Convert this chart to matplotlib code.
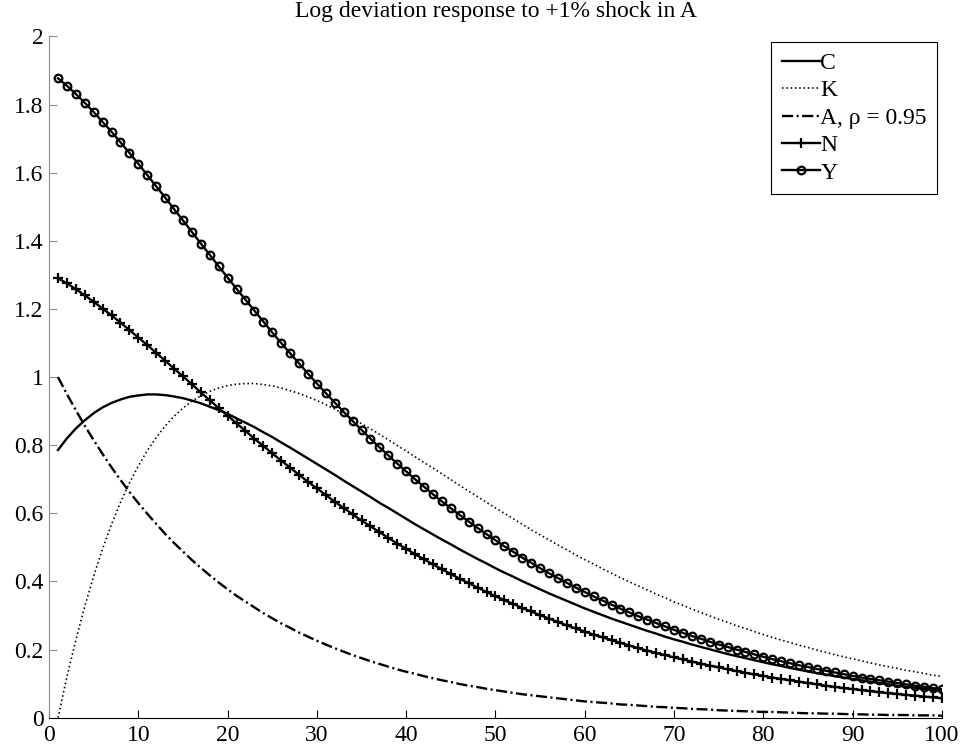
import matplotlib
matplotlib.use("Agg")
import matplotlib.pyplot as plt

plt.rcParams['font.family'] = ['Liberation Serif', 'DejaVu Serif']
plt.rcParams['lines.scale_dashes'] = False

# periods 1..100
t = list(range(1, 101))

C = [0.786, 0.820, 0.849, 0.873, 0.894, 0.911, 0.924, 0.934, 0.942, 0.946,
     0.949, 0.949, 0.947, 0.943, 0.938, 0.931, 0.923, 0.913, 0.903, 0.892,
     0.879, 0.866, 0.853, 0.838, 0.824, 0.808, 0.793, 0.777, 0.761, 0.745,
     0.729, 0.713, 0.696, 0.680, 0.664, 0.648, 0.631, 0.616, 0.600, 0.584,
     0.568, 0.553, 0.538, 0.523, 0.509, 0.494, 0.480, 0.466, 0.453, 0.439,
     0.426, 0.414, 0.401, 0.389, 0.377, 0.365, 0.354, 0.343, 0.332, 0.321,
     0.311, 0.301, 0.291, 0.282, 0.273, 0.264, 0.255, 0.247, 0.238, 0.230,
     0.223, 0.215, 0.208, 0.201, 0.194, 0.187, 0.181, 0.175, 0.169, 0.163,
     0.157, 0.152, 0.146, 0.141, 0.136, 0.131, 0.127, 0.122, 0.118, 0.114,
     0.110, 0.106, 0.102, 0.098, 0.094, 0.091, 0.088, 0.085, 0.082, 0.079]

K = [0.000, 0.120, 0.228, 0.327, 0.416, 0.496, 0.568, 0.632, 0.689, 0.739,
     0.784, 0.822, 0.856, 0.885, 0.909, 0.929, 0.945, 0.958, 0.968, 0.975,
     0.979, 0.981, 0.981, 0.978, 0.974, 0.968, 0.960, 0.952, 0.942, 0.931,
     0.919, 0.906, 0.892, 0.878, 0.863, 0.848, 0.832, 0.816, 0.799, 0.783,
     0.766, 0.749, 0.733, 0.716, 0.699, 0.682, 0.665, 0.649, 0.632, 0.616,
     0.600, 0.584, 0.568, 0.552, 0.537, 0.522, 0.507, 0.493, 0.478, 0.464,
     0.451, 0.437, 0.424, 0.411, 0.399, 0.387, 0.375, 0.363, 0.352, 0.340,
     0.330, 0.319, 0.309, 0.299, 0.289, 0.280, 0.270, 0.262, 0.253, 0.244,
     0.236, 0.228, 0.221, 0.213, 0.206, 0.199, 0.192, 0.185, 0.179, 0.173,
     0.167, 0.161, 0.155, 0.150, 0.145, 0.139, 0.135, 0.130, 0.125, 0.121]

A = [1.000, 0.950, 0.903, 0.857, 0.815, 0.774, 0.735, 0.698, 0.663, 0.630,
     0.599, 0.569, 0.540, 0.513, 0.488, 0.463, 0.440, 0.418, 0.397, 0.377,
     0.358, 0.341, 0.324, 0.307, 0.292, 0.277, 0.264, 0.250, 0.238, 0.226,
     0.215, 0.204, 0.194, 0.184, 0.175, 0.166, 0.158, 0.150, 0.142, 0.135,
     0.129, 0.122, 0.116, 0.110, 0.105, 0.099, 0.094, 0.090, 0.085, 0.081,
     0.077, 0.073, 0.069, 0.066, 0.063, 0.060, 0.057, 0.054, 0.051, 0.048,
     0.046, 0.044, 0.042, 0.039, 0.038, 0.036, 0.034, 0.032, 0.031, 0.029,
     0.028, 0.026, 0.025, 0.024, 0.022, 0.021, 0.020, 0.019, 0.018, 0.017,
     0.017, 0.016, 0.015, 0.014, 0.013, 0.013, 0.012, 0.012, 0.011, 0.010,
     0.010, 0.009, 0.009, 0.008, 0.008, 0.008, 0.007, 0.007, 0.007, 0.006]

N = [1.290, 1.275, 1.258, 1.240, 1.221, 1.201, 1.181, 1.160, 1.138, 1.116,
     1.094, 1.071, 1.048, 1.025, 1.002, 0.979, 0.955, 0.932, 0.909, 0.887,
     0.864, 0.842, 0.819, 0.798, 0.776, 0.755, 0.734, 0.713, 0.693, 0.673,
     0.654, 0.634, 0.616, 0.597, 0.579, 0.562, 0.545, 0.528, 0.511, 0.496,
     0.480, 0.465, 0.450, 0.436, 0.422, 0.408, 0.395, 0.382, 0.369, 0.357,
     0.345, 0.334, 0.322, 0.312, 0.301, 0.291, 0.281, 0.271, 0.262, 0.253,
     0.244, 0.236, 0.228, 0.220, 0.212, 0.204, 0.197, 0.190, 0.184, 0.177,
     0.171, 0.165, 0.159, 0.153, 0.148, 0.142, 0.137, 0.132, 0.127, 0.123,
     0.118, 0.114, 0.110, 0.106, 0.102, 0.098, 0.094, 0.091, 0.087, 0.084,
     0.081, 0.078, 0.075, 0.072, 0.070, 0.067, 0.065, 0.062, 0.060, 0.057]

Y = [1.877, 1.855, 1.831, 1.805, 1.778, 1.749, 1.720, 1.689, 1.658, 1.626,
     1.593, 1.560, 1.527, 1.493, 1.460, 1.426, 1.392, 1.359, 1.325, 1.292,
     1.259, 1.227, 1.195, 1.163, 1.131, 1.100, 1.070, 1.040, 1.010, 0.981,
     0.953, 0.925, 0.898, 0.871, 0.845, 0.819, 0.794, 0.770, 0.746, 0.723,
     0.700, 0.678, 0.656, 0.635, 0.615, 0.595, 0.576, 0.557, 0.539, 0.521,
     0.503, 0.487, 0.470, 0.455, 0.439, 0.424, 0.410, 0.396, 0.382, 0.369,
     0.356, 0.344, 0.332, 0.320, 0.309, 0.298, 0.288, 0.278, 0.268, 0.258,
     0.249, 0.240, 0.232, 0.223, 0.215, 0.208, 0.200, 0.193, 0.186, 0.179,
     0.172, 0.166, 0.160, 0.154, 0.149, 0.143, 0.138, 0.133, 0.128, 0.123,
     0.118, 0.114, 0.110, 0.106, 0.102, 0.098, 0.094, 0.091, 0.087, 0.084]

labels = ["C", "K", "A, \u03c1 = 0.95", "N", "Y"]
xticks = [0, 10, 20, 30, 40, 50, 60, 70, 80, 90, 100]
yticks = [0, 0.2, 0.4, 0.6, 0.8, 1, 1.2, 1.4, 1.6, 1.8, 2]

fs = 17

fig = plt.figure(figsize=(9.73, 7.5), dpi=100)
ax = fig.add_axes([0.0504, 0.043, 0.9176, 0.9085])

ax.plot(t, C, "-", color="k", lw=1.7, label=labels[0])
ax.plot(t, K, color="k", lw=1.2, dashes=(1.1, 2.0), label=labels[1])
ax.plot(t, A, color="k", lw=1.7, dashes=(8, 2.5, 1.5, 2.5), label=labels[2])
ax.plot(t, N, "-+", color="k", lw=1.7, ms=6.5, mew=1.6, label=labels[3])
ax.plot(t, Y, "-o", color="k", lw=1.7, ms=5.5, mew=1.6, mfc="none", label=labels[4])

ax.set_xlim(0, 100)
ax.set_ylim(0, 2)
ax.set_xticks(xticks)
ax.set_yticks(yticks)
ax.set_xticklabels([str(v) for v in xticks])
ax.set_yticklabels(["{:g}".format(v) for v in yticks])

ax.spines["top"].set_visible(False)
ax.spines["right"].set_visible(False)
ax.spines["left"].set_color("#8c8c8c")
ax.spines["bottom"].set_color("k")
ax.tick_params(axis="both", direction="in", length=6, labelsize=fs)
ax.tick_params(axis="y", colors="#8c8c8c", labelcolor="k", pad=4)
ax.tick_params(axis="x", pad=5)

ax.set_title("Log deviation response to +1% shock in A", fontsize=fs, pad=14)

leg = ax.legend(loc="upper right", bbox_to_anchor=(0.995, 0.992), borderaxespad=0,
                fontsize=fs, numpoints=1, handlelength=1.6, handletextpad=0.02,
                labelspacing=0.25, borderpad=0.45, fancybox=False, framealpha=1,
                edgecolor="k")
leg.get_frame().set_linewidth(0.8)

plt.savefig("out.png", dpi=100)
